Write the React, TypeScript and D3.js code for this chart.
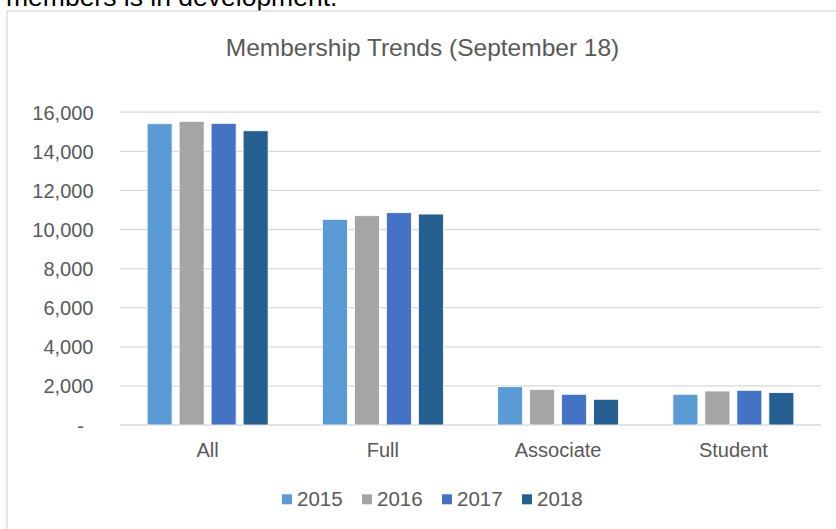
import React from "react";
import * as d3 from "d3";

const categories = ["All", "Full", "Associate", "Student"];
const years = ["2015", "2016", "2017", "2018"];
const values2015 = [15410, 10520, 1960, 1570];
const values2016 = [15530, 10705, 1825, 1740];
const values2017 = [15430, 10860, 1570, 1775];
const values2018 = [15050, 10790, 1315, 1655];
const yTicks = [0, 2000, 4000, 6000, 8000, 10000, 12000, 14000, 16000];
const colors = ["#5B9BD5", "#A5A5A5", "#4472C4", "#255E91"];
const title = "Membership Trends (September 18)";
const topText = "members is in development.";

const seriesValues = [values2015, values2016, values2017, values2018];

export default function App() {
  const W = 836;
  const H = 529;
  const plotLeft = 120;
  const plotRight = 821;
  const yTop = 112.2;
  const yBottom = 425;
  const font = "'Liberation Sans', Arial, sans-serif";
  const textColor = "#595959";

  const x0 = d3.scaleBand<string>().domain(categories).range([plotLeft, plotRight]).padding(0);
  const x1 = d3
    .scaleBand<string>()
    .domain(years)
    .range([0, x0.bandwidth()])
    .paddingInner(0.21875)
    .paddingOuter(0.848);
  const y = d3.scaleLinear().domain([0, 16000]).range([yBottom, yTop]);
  const fmt = d3.format(",");

  const legendStep = 80;
  const legendCenter = 432.5;
  const legendStart = legendCenter - (years.length * legendStep - 19) / 2;

  return (
    <svg
      width={W}
      height={H}
      style={{ position: "absolute", left: 0, top: 0, background: "#fff" }}
      fontFamily={font}
    >
      <text x={6} y={6} fontSize={26.5} fill="#000">
        {topText}
      </text>
      <rect x={7} y={11} width={W + 20} height={H + 20} fill="#fff" stroke="#D9D9D9" strokeWidth={1.3} />
      <text x={422.5} y={56} fontSize={24.5} fill={textColor} textAnchor="middle">
        {title}
      </text>
      {yTicks.map((t) => (
        <g key={t}>
          <line x1={plotLeft} x2={plotRight} y1={y(t)} y2={y(t)} stroke="#D9D9D9" strokeWidth={1.3} />
          <text
            x={t === 0 ? 84 : 93.5}
            y={y(t) + 7.5}
            fontSize={20}
            fill={textColor}
            textAnchor="end"
          >
            {t === 0 ? "-" : fmt(t)}
          </text>
        </g>
      ))}
      {categories.map((c, ci) => (
        <g key={c} transform={`translate(${x0(c)},0)`}>
          {years.map((yr, si) => {
            const v = seriesValues[si][ci];
            return (
              <rect
                key={yr}
                x={x1(yr)}
                y={y(v)}
                width={x1.bandwidth()}
                height={yBottom - y(v)}
                fill={colors[si]}
                stroke="#fff"
                strokeWidth={0.8}
              />
            );
          })}
          <text x={x0.bandwidth() / 2} y={457} fontSize={20} fill={textColor} textAnchor="middle">
            {c}
          </text>
        </g>
      ))}
      {years.map((yr, i) => {
        const lx = legendStart + i * legendStep;
        return (
          <g key={yr}>
            <rect x={lx} y={494.3} width={10} height={10} fill={colors[i]} />
            <text x={lx + 15} y={505.7} fontSize={20.5} fill={textColor}>
              {yr}
            </text>
          </g>
        );
      })}
    </svg>
  );
}
